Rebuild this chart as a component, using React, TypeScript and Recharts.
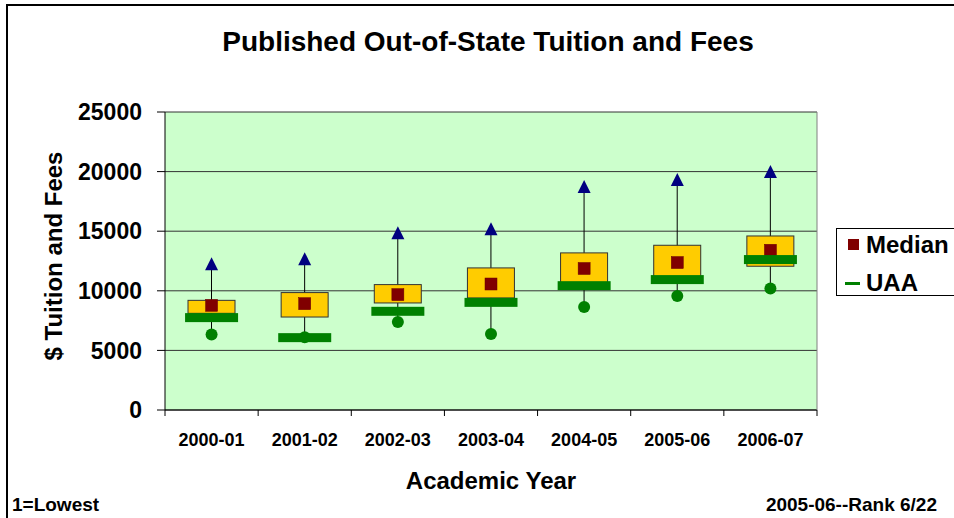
import { ComposedChart, Bar, Line, XAxis, YAxis, CartesianGrid, Legend } from "recharts";

document.body.style.margin = "0";

const FONT = "'Liberation Sans', Arial, sans-serif";

const years = ["2000-01", "2001-02", "2002-03", "2003-04", "2004-05", "2005-06", "2006-07"];
const minVals = [6340, 6100, 7380, 6370, 8640, 9560, 10190];
const q1Vals = [8110, 7800, 8980, 9400, 10460, 11050, 12060];
const q3Vals = [9200, 9850, 10520, 11920, 13180, 13820, 14600];
const medianVals = [8780, 8920, 9680, 10570, 11870, 12370, 13400];
const maxVals = [12230, 12650, 14830, 15170, 18700, 19290, 19960];
const uaaVals = [7750, 6070, 8280, 9030, 10430, 10940, 12620];
const yTicks = [0, 5000, 10000, 15000, 20000, 25000];

const X_TICK_MARGIN = 23;

const data = years.map((year, i) => ({
    year,
    min: minVals[i],
    q1: q1Vals[i],
    q3: q3Vals[i],
    median: medianVals[i],
    max: maxVals[i],
    uaa: uaaVals[i],
}));

// eslint-disable-next-line @typescript-eslint/no-explicit-any
const Whisker = (p: any) => {
    const cx = p.x + p.width / 2;
    const top = Math.min(p.y, p.y + p.height);
    return <line x1={cx} x2={cx} y1={top} y2={top + Math.abs(p.height)} stroke="#000" strokeWidth={1} />;
};

// eslint-disable-next-line @typescript-eslint/no-explicit-any
const BoxShape = (p: any) => {
    const top = Math.min(p.y, p.y + p.height);
    return (
        <rect x={p.x} y={top} width={p.width} height={Math.abs(p.height)} fill="#FFCC00" stroke="#333" strokeWidth={1} />
    );
};

// eslint-disable-next-line @typescript-eslint/no-explicit-any
const MedianDot = (p: any) => (
    <rect key={`med-${p.index}`} x={p.cx - 6} y={p.cy - 6} width={12} height={12} fill="#800000" stroke="#6a0000" strokeWidth={0.5} />
);

// eslint-disable-next-line @typescript-eslint/no-explicit-any
const UaaDot = (p: any) => (
    <rect key={`uaa-${p.index}`} x={p.cx - 26.5} y={p.cy - 4.5} width={53} height={9} fill="#008000" />
);

// eslint-disable-next-line @typescript-eslint/no-explicit-any
const MaxDot = (p: any) => (
    <polygon
        key={`max-${p.index}`}
        points={`${p.cx},${p.cy - 7} ${p.cx + 6.5},${p.cy + 6} ${p.cx - 6.5},${p.cy + 6}`}
        fill="#000080"
    />
);

// eslint-disable-next-line @typescript-eslint/no-explicit-any
const MinDot = (p: any) => <circle key={`min-${p.index}`} cx={p.cx} cy={p.cy} r={6} fill="#008000" />;

// category label plus tick marks on the band edges, like Excel
// eslint-disable-next-line @typescript-eslint/no-explicit-any
const YearTick = (p: any) => {
    const half = p.payload?.offset ?? 0;
    const axisY = p.y - X_TICK_MARGIN;
    return (
        <g>
            {half > 0 && <line x1={p.x - half} x2={p.x - half} y1={axisY} y2={axisY + 6} stroke="#000" />}
            {half > 0 && p.index === years.length - 1 && (
                <line x1={p.x + half} x2={p.x + half} y1={axisY} y2={axisY + 6} stroke="#000" />
            )}
            <text
                x={p.x}
                y={p.y}
                dy="0.71em"
                textAnchor="middle"
                style={{ fontFamily: FONT, fontWeight: 700, fontSize: 18, fill: "#000" }}
            >
                {p.payload.value}
            </text>
        </g>
    );
};

const LegendBox = () => (
    <div
        style={{
            border: "1px solid #000",
            background: "#fff",
            width: 140,
            height: 68,
            boxSizing: "border-box",
            fontFamily: FONT,
            fontWeight: 700,
            fontSize: 24,
            color: "#000",
            position: "relative",
        }}
    >
        <div style={{ position: "absolute", left: 11, top: 10, width: 11, height: 11, background: "#800000" }} />
        <div style={{ position: "absolute", left: 29, top: 1, lineHeight: "30px" }}>Median</div>
        <div style={{ position: "absolute", left: 8, top: 53, width: 15, height: 3, background: "#008000" }} />
        <div style={{ position: "absolute", left: 29, top: 39, lineHeight: "30px" }}>UAA</div>
    </div>
);

export default function App() {
    const bold = { fontFamily: FONT, fontWeight: 700, fill: "#000" };
    return (
        <div style={{ position: "relative", width: 954, height: 518, overflow: "hidden", background: "#fff" }}>
            <div
                style={{
                    position: "absolute",
                    left: 6,
                    top: 4,
                    width: 1100,
                    height: 700,
                    border: "2px solid #000",
                }}
            />
            <ComposedChart
                width={954}
                height={518}
                data={data}
                margin={{ top: 112, right: 136, left: 65, bottom: 78 }}
                style={{ position: "absolute", left: 0, top: 0 }}
            >
                <CartesianGrid vertical={false} stroke="#333" fill="#CCFFCC" />
                <XAxis
                    dataKey="year"
                    height={30}
                    axisLine={{ stroke: "#000" }}
                    tickLine={false}
                    tickSize={0}
                    tickMargin={X_TICK_MARGIN}
                    interval={0}
                    tick={YearTick}
                />
                <XAxis xAxisId="w" dataKey="year" hide />
                <YAxis
                    domain={[0, 25000]}
                    ticks={yTicks}
                    width={100}
                    tickSize={8}
                    tickMargin={15}
                    axisLine={{ stroke: "#000" }}
                    tickLine={{ stroke: "#000" }}
                    tick={{ ...bold, fontSize: 23 }}
                />
                <YAxis
                    yAxisId="r"
                    orientation="right"
                    domain={[0, 25000]}
                    width={1}
                    tick={false}
                    tickLine={false}
                    axisLine={{ stroke: "#808080" }}
                />
                <Bar
                    xAxisId="w"
                    dataKey={(d: { min: number; max: number }) => [d.min, d.max]}
                    barSize={47}
                    shape={Whisker}
                    isAnimationActive={false}
                    legendType="none"
                />
                <Bar
                    dataKey={(d: { q1: number; q3: number }) => [d.q1, d.q3]}
                    barSize={47}
                    shape={BoxShape}
                    isAnimationActive={false}
                    legendType="none"
                />
                <Line dataKey="median" stroke="none" dot={MedianDot} activeDot={false} isAnimationActive={false} />
                <Line dataKey="uaa" stroke="none" dot={UaaDot} activeDot={false} isAnimationActive={false} />
                <Line dataKey="max" stroke="none" dot={MaxDot} activeDot={false} isAnimationActive={false} />
                <Line dataKey="min" stroke="none" dot={MinDot} activeDot={false} isAnimationActive={false} />
                <Legend
                    layout="vertical"
                    align="center"
                    verticalAlign="middle"
                    wrapperStyle={{ left: 836, top: 228, width: 140, height: 68 }}
                    content={() => <LegendBox />}
                />
            </ComposedChart>
            <svg width={954} height={518} style={{ position: "absolute", left: 0, top: 0, pointerEvents: "none" }}>
                <text x={488} y={51} textAnchor="middle" style={{ ...bold, fontSize: 28 }}>
                    Published Out-of-State Tuition and Fees
                </text>
                <text x={491} y={489} textAnchor="middle" style={{ ...bold, fontSize: 24 }}>
                    Academic Year
                </text>
                <text x={62} y={256} textAnchor="middle" transform="rotate(-90 62 256)" style={{ ...bold, fontSize: 24 }}>
                    $ Tuition and Fees
                </text>
                <text x={12} y={511} style={{ ...bold, fontSize: 19 }}>
                    1=Lowest
                </text>
                <text x={937} y={511} textAnchor="end" style={{ ...bold, fontSize: 19 }}>
                    2005-06--Rank 6/22
                </text>
            </svg>
        </div>
    );
}
